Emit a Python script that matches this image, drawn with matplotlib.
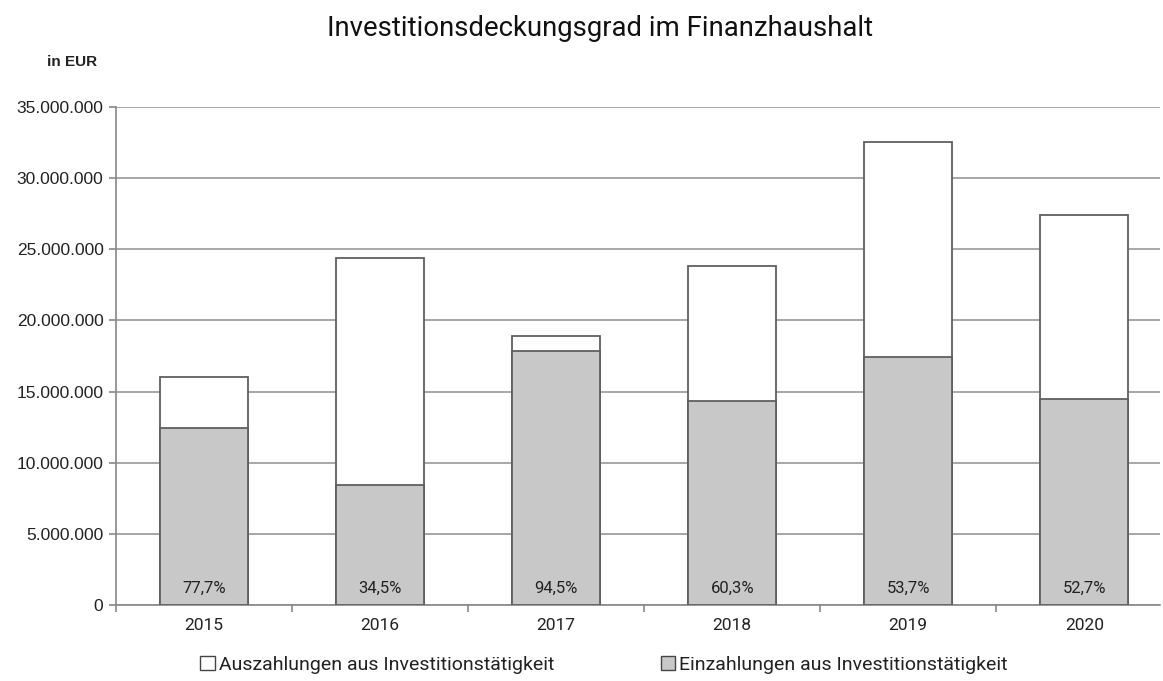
import matplotlib
matplotlib.use("Agg")
import matplotlib.pyplot as plt
from matplotlib.patches import Patch
from matplotlib import font_manager
from matplotlib.ticker import FuncFormatter, MultipleLocator

years = ["2015", "2016", "2017", "2018", "2019", "2020"]
auszahlungen = [16030000, 24400000, 18920000, 23840000, 32510000, 27430000]
einzahlungen = [12450000, 8420000, 17880000, 14350000, 17460000, 14490000]
quoten = ["77,7%", "34,5%", "94,5%", "60,3%", "53,7%", "52,7%"]

names = {f.name for f in font_manager.fontManager.ttflist}
narrow = "Liberation Sans Narrow" if "Liberation Sans Narrow" in names else "Roboto"
cond = [narrow, "DejaVu Sans"]
arial = ["Liberation Sans", "DejaVu Sans"]

W, H = 1163, 681
fig = plt.figure(figsize=(W / 100, H / 100), dpi=100)
ax = fig.add_axes([116 / W, (H - 605) / H, (1160 - 116) / W, (605 - 107) / H])

x = list(range(len(years)))
ax.bar(x, auszahlungen, width=0.5, color="white", edgecolor="#5f5f5f", linewidth=1.3, zorder=3)
ax.bar(x, einzahlungen, width=0.5, color="#c8c8c8", edgecolor="#5f5f5f", linewidth=1.3, zorder=4)

for xi, q in zip(x, quoten):
    ax.text(xi, 1200000, q, ha="center", va="center", fontsize=12, family=cond, color="#222222", zorder=5)

ax.yaxis.set_major_locator(MultipleLocator(5000000))
ax.yaxis.set_major_formatter(FuncFormatter(lambda v, p: f"{int(v):,}".replace(",", ".")))
ax.grid(axis="y", color="#a0a0a0", linewidth=1.3, zorder=0)
ax.set_axisbelow(True)

ax.set_xticks([i + 0.5 for i in range(-1, 6)], minor=False)
ax.set_xticklabels([])
ax.set_xticks(x, minor=True)
ax.set_xticklabels(years, minor=True)
ax.set_xlim(-0.5, 5.43)
ax.set_ylim(0, 35000000)
ax.tick_params(axis="x", which="major", length=5, color="#888888", width=1.2, direction="out")
ax.tick_params(axis="x", which="minor", length=0, pad=9, labelsize=12.5, labelcolor="#222222")
for lab in ax.get_xticklabels(minor=True):
    lab.set_family(cond)
ax.tick_params(axis="y", length=5, color="#888888", width=1.2, labelsize=12.5, pad=4, labelcolor="#222222")
for lab in ax.get_yticklabels():
    lab.set_family(arial)

for s in ["top", "right"]:
    ax.spines[s].set_visible(False)
for s in ["left", "bottom"]:
    ax.spines[s].set_color("#888888")
    ax.spines[s].set_linewidth(1.2)

fig.text(600 / W, 1 - 28 / H, "Investitionsdeckungsgrad im Finanzhaushalt", ha="center", va="center",
         fontsize=19.8, family=cond, color="#111111")
fig.text(72 / W, 1 - 62 / H, "in EUR", ha="center", va="center", fontsize=11, fontweight="bold",
         family=arial, color="#222222")

handles = [Patch(facecolor="white", edgecolor="#444444", linewidth=1.0),
           Patch(facecolor="#c8c8c8", edgecolor="#444444", linewidth=1.0)]
leg = fig.legend(handles, ["Auszahlungen aus Investitionstätigkeit", "Einzahlungen aus Investitionstätigkeit"],
                 loc="center", bbox_to_anchor=(604 / W, 1 - 665 / H), ncol=2, frameon=False,
                 handlelength=0.75, handleheight=0.75, handletextpad=0.2, columnspacing=5.5,
                 prop={"family": cond, "size": 14})
for t in leg.get_texts():
    t.set_color("#222222")

fig.savefig("out.png", dpi=100)
